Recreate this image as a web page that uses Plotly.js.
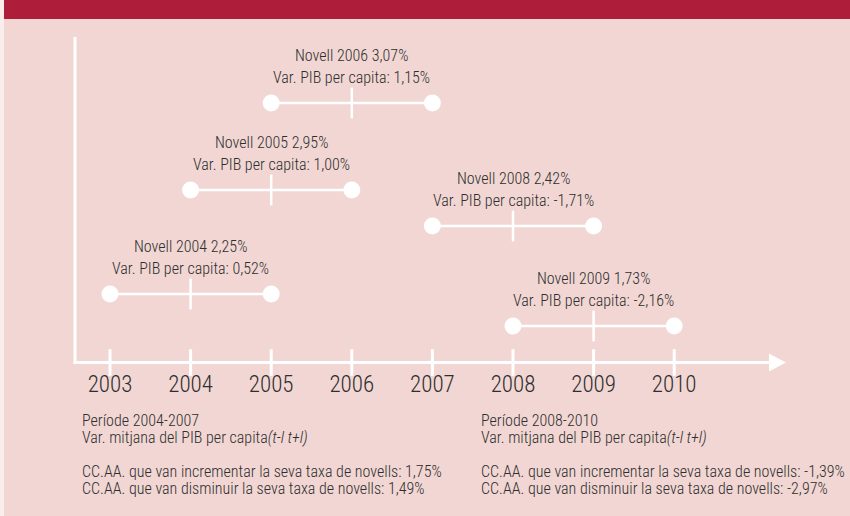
<!DOCTYPE html>
<html>
<head>
<meta charset="utf-8">
<script src="https://cdn.plot.ly/plotly-3.0.1.min.js"></script>
<style>
  html, body { margin: 0; padding: 0; background: #f1d6d3; }
  #plot { width: 850px; height: 516px; }
</style>
</head>
<body>
<div id="plot"></div>
<script>
// axis years
const years = [2003, 2004, 2005, 2006, 2007, 2008, 2009, 2010];

// novell rate per year and per capita GDP change (t-1, t+1)
const novellYears = [2004, 2005, 2006, 2008, 2009];
const novellRates = [2.25, 2.95, 3.07, 2.42, 1.73];
const pibVar = [0.52, 1.00, 1.15, -1.71, -2.16];

// summary per period
const periods = ['2004-2007', '2008-2010'];
const increased = [1.75, -1.39];
const decreased = [1.49, -2.97];

// vertical placement of each bracket (px from top)
const rowY = [294, 190, 103, 226, 326];

const FONT = '"Roboto Condensed"';
const W = '300';
const TXT = '#2e2e2e';
const BG = '#f1d6d3';
const RED = '#ae1d3a';

const fmt = v => v.toFixed(2).replace('.', ',') + '%';

const pxPerYear = 80.6;
const x0 = 2003 - 110 / pxPerYear;
const x1 = x0 + 850 / pxPerYear;
const pxToX = px => x0 + px / pxPerYear;
const axisY = 362.5;

const data = [];

// brackets: line, end dots, middle tick
novellYears.forEach((yr, i) => {
  data.push({
    x: [yr - 1, yr + 1],
    y: [rowY[i], rowY[i]],
    type: 'scatter',
    mode: 'lines+markers',
    line: { color: '#ffffff', width: 2.5 },
    marker: { symbol: 'circle', size: 17, color: '#ffffff', line: { width: 0 } },
    hoverinfo: 'skip'
  });
  data.push({
    x: [yr],
    y: [rowY[i]],
    type: 'scatter',
    mode: 'markers',
    marker: { symbol: 'line-ns-open', size: 22, color: '#ffffff', line: { color: '#ffffff', width: 2.5 } },
    hoverinfo: 'skip'
  });
});

// axis ticks
data.push({
  x: years,
  y: years.map(() => axisY),
  type: 'scatter',
  mode: 'markers',
  marker: { symbol: 'line-ns-open', size: 19, color: '#ffffff', line: { color: '#ffffff', width: 3 } },
  hoverinfo: 'skip'
});

// year labels
data.push({
  x: years,
  y: years.map(() => 386),
  type: 'scatter',
  mode: 'text',
  text: years.map(String),
  textfont: { family: FONT, size: 23, color: TXT, weight: W },
  hoverinfo: 'skip'
});

const annotations = [];
novellYears.forEach((yr, i) => {
  annotations.push({
    x: yr, y: rowY[i] - 47.5, xref: 'x', yref: 'y',
    text: 'Novell ' + yr + ' ' + fmt(novellRates[i]),
    showarrow: false, font: { family: FONT, size: 16, color: TXT, weight: W }
  });
  annotations.push({
    x: yr, y: rowY[i] - 26, xref: 'x', yref: 'y',
    text: 'Var. PIB per capita: ' + fmt(pibVar[i]),
    showarrow: false, font: { family: FONT, size: 16, color: TXT, weight: W }
  });
});

const blockX = [80 / 850, 479 / 850];
periods.forEach((p, i) => {
  const lines = [
    ['Període ' + p, 420],
    ['Var. mitjana del PIB per capita<i>(t-l t+l)</i>', 437],
    ['CC.AA. que van incrementar la seva taxa de novells: ' + fmt(increased[i]), 471],
    ['CC.AA. que van disminuir la seva taxa de novells: ' + fmt(decreased[i]), 488]
  ];
  lines.forEach(([t, y]) => {
    annotations.push({
      x: blockX[i], y: y, xref: 'paper', yref: 'y',
      xanchor: 'left', yanchor: 'middle', align: 'left',
      text: t, showarrow: false,
      font: { family: FONT, size: 16, color: TXT, weight: W }
    });
  });
});

const shapes = [
  // header band
  { type: 'rect', xref: 'paper', yref: 'y', x0: 0, x1: 1, y0: 0, y1: 19,
    fillcolor: RED, line: { width: 0 }, layer: 'below' },
  // left light strip
  { type: 'rect', xref: 'paper', yref: 'y', x0: 0, x1: 4 / 850, y0: 0, y1: 516,
    fillcolor: '#f9eeec', line: { width: 0 }, layer: 'below' },
  // vertical axis
  { type: 'line', xref: 'x', yref: 'y', x0: pxToX(75), x1: pxToX(75), y0: 37, y1: axisY + 1.5,
    line: { color: '#ffffff', width: 3 } },
  // horizontal axis
  { type: 'line', xref: 'x', yref: 'y', x0: pxToX(73.5), x1: pxToX(772), y0: axisY, y1: axisY,
    line: { color: '#ffffff', width: 3 } },
  // arrow head
  { type: 'path', xref: 'x', yref: 'y',
    path: 'M ' + pxToX(769) + ' ' + (axisY - 9) + ' L ' + pxToX(786) + ' ' + axisY +
          ' L ' + pxToX(769) + ' ' + (axisY + 9) + ' Z',
    fillcolor: '#ffffff', line: { width: 0 } }
];

const layout = {
  width: 850,
  height: 516,
  margin: { l: 0, r: 0, t: 0, b: 0 },
  paper_bgcolor: BG,
  plot_bgcolor: BG,
  showlegend: false,
  xaxis: { range: [x0, x1], visible: false, fixedrange: true },
  yaxis: { range: [516, 0], visible: false, fixedrange: true },
  shapes: shapes,
  annotations: annotations
};

Plotly.newPlot('plot', data, layout, { displayModeBar: false, staticPlot: true });
</script>
</body>
</html>
